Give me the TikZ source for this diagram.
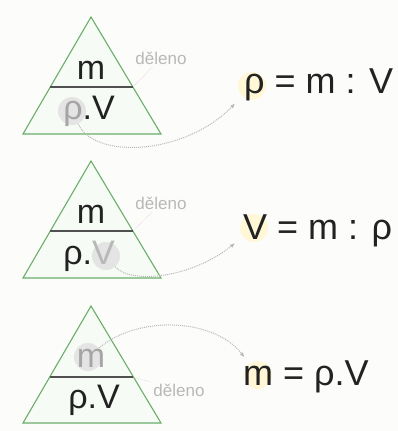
\documentclass[tikz,border=0pt]{standalone}
\usepackage{fontspec}
\setmainfont{Liberation Sans}
\usetikzlibrary{arrows.meta,positioning}
\definecolor{PageTint}{HTML}{FCFDFA}
\definecolor{TriGreen}{HTML}{6AAE6A}
\definecolor{TriFill}{HTML}{F7FBF5}
\definecolor{BarGray}{HTML}{505050}
\definecolor{InkDark}{HTML}{222222}
\definecolor{FadeGray}{HTML}{B8B8B8}
\definecolor{SpotGray}{HTML}{E4E4E4}
\definecolor{SpotYellow}{HTML}{FFF7D6}

\begin{document}
\begin{tikzpicture}[x=1pt,y=-1pt,
tri/.style={draw=TriGreen,line width=1.1pt,fill=TriFill},
bar/.style={draw=BarGray,line width=1.8pt},
sym/.style={font=\fontsize{34}{34}\selectfont,text=InkDark,inner sep=0pt,anchor=base},
formula/.style={font=\fontsize{36}{36}\selectfont,text=InkDark,inner sep=0pt,anchor=base west},
word/.style={font=\fontsize{17}{17}\selectfont,text=FadeGray,inner sep=1pt},
spot/.style={circle,fill=SpotGray,minimum size=28pt,inner sep=0pt},
spothi/.style={circle,fill=SpotYellow,minimum size=28pt,inner sep=0pt},
hint/.style={-{Latex[length=5pt,width=4pt]},densely dotted,line width=1pt,draw=FadeGray},
leader/.style={densely dotted,line width=0.6pt,draw=FadeGray!60,shorten <=2pt,shorten >=2pt}
]
\fill[PageTint] (0,0) rectangle (398,431);
\useasboundingbox (0,0) rectangle (398,431);

% Panel 1: density
\begin{scope}
\draw[tri] (91,17) -- (23,134) -- (161,134) -- cycle;
\node[spot] (fadeA) at (72,111) {};
\coordinate (barA) at (133,87);
\draw[bar] (50,87) -- (barA);
\node[sym] (topA) at (91,79) {m};
\node[sym] (lowA) at (89,119) {\textcolor{FadeGray!90!black}{ρ}.V};
\node[word] (divA) at (161,58) {děleno};
\draw[leader] (divA) -- (barA);
\node[spothi] (hiA) at (252,86) {};
\node[formula] (eqA) at (244,93) {ρ = m : V};
\draw[hint,shorten >=10pt] (fadeA) .. controls (95,160) and (185,155) .. (hiA);
\end{scope}

% Panel 2: volume
\begin{scope}[shift={(0,144)}]
\draw[tri] (91,17) -- (23,134) -- (161,134) -- cycle;
\node[spot] (fadeB) at (106,112) {};
\coordinate (barB) at (133,87);
\draw[bar] (50,87) -- (barB);
\node[sym] (topB) at (91,79) {m};
\node[sym] (lowB) at (89,120) {ρ.\textcolor{FadeGray}{V}};
\node[word] (divB) at (161,59) {děleno};
\draw[leader] (divB) -- (barB);
\node[spothi] (hiB) at (254,84) {};
\node[formula] (eqB) at (243,95) {V = m : ρ};
\draw[hint,shorten >=10pt] (fadeB) .. controls (130,140) and (190,135) .. (hiB);
\end{scope}

% Panel 3: mass
\begin{scope}[shift={(0,289)}]
\draw[tri] (91,17) -- (23,134) -- (161,134) -- cycle;
\node[spot] (fadeC) at (88,68) {};
\coordinate (barC) at (133,88);
\draw[bar] (50,88) -- (barC);
\node[sym] (topC) at (91,78) {\textcolor{FadeGray!90!black}{m}};
\node[sym] (lowC) at (94,119) {ρ.V};
\node[word] (divC) at (179,101) {děleno};
\draw[leader] (barC) -- (divC);
\node[spothi] (hiC) at (258,86) {};
\node[formula] (eqC) at (243,96) {m = ρ.V};
\draw[hint,shorten >=8pt] (fadeC) .. controls (140,25) and (215,30) .. (hiC);
\end{scope}
\end{tikzpicture}
\end{document}
